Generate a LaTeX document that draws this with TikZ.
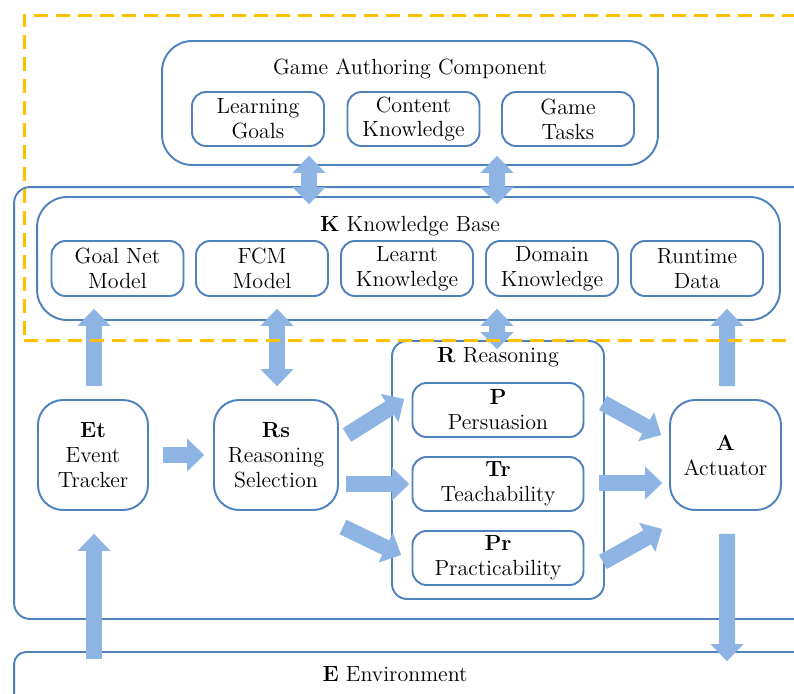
\documentclass[tikz,border=0pt]{standalone}
\usepackage{xcolor}
\usepackage{tikz}
\usetikzlibrary{positioning, arrows.meta, calc}
\definecolor{boxblue}{RGB}{79,129,189}
\definecolor{arrowblue}{RGB}{141,180,226}
\definecolor{authgold}{RGB}{255,192,0}

\begin{document}
\begin{tikzpicture}[
    x=0.02cm, y=-0.02cm,
    every node/.style={align=center, inner sep=0pt, font=\fontsize{12.5}{14.2}\selectfont},
    blockbox/.style={draw=boxblue, line width=1.1pt, rounded corners=#1},
    blockbox/.default=0.3cm,
    item/.style={blockbox=0.28cm, minimum width=2.64cm, minimum height=1.08cm},
    unit/.style={blockbox=0.5cm, minimum height=2.2cm},
    fattip/.tip={Triangle[length=0.34cm, width=0.66cm, line width=0.1pt]},
    fat/.style={draw=arrowblue, line width=0.32cm, -fattip},
    fatboth/.style={draw=arrowblue, line width=0.32cm, fattip-fattip}
]
\clip (0,0) rectangle (794,693);

\node[blockbox=0.32cm, minimum width=16.32cm, minimum height=8.64cm] (agent) at (422,403) {};
\node[blockbox=0.24cm, minimum width=16.32cm, minimum height=1.36cm] (env) at (422,686) {};
\node (envtitle) at (395,674) {\textbf{E} Environment};

\node[blockbox=0.6cm, minimum width=9.92cm, minimum height=2.48cm] (gac) at (410,103) {};
\node (gactitle) at (410,69) {Game Authoring Component};
\node[item] (lg) at (258,119) {Learning\\Goals};
\node[item] (ck) at (413.5,119) {Content\\Knowledge};
\node[item] (gt) at (568,119) {Game\\Tasks};

\node[blockbox=0.6cm, minimum width=14.86cm, minimum height=2.46cm] (kb) at (408.5,258.5) {};
\node (kbtitle) at (410,226) {\textbf{K} Knowledge Base};
\node[item, minimum height=1.1cm] (gnm) at (117.5,268.5) {Goal Net\\Model};
\node[item, minimum height=1.1cm] (fcm) at (262,268.5) {FCM\\Model};
\node[item, minimum height=1.1cm] (lk) at (407,268.5) {Learnt\\Knowledge};
\node[item, minimum height=1.1cm] (dk) at (552,268.5) {Domain\\Knowledge};
\node[item, minimum height=1.1cm] (rd) at (697,268.5) {Runtime\\Data};

\node[blockbox, minimum width=4.24cm, minimum height=5.16cm] (rr) at (498,470) {};
\node (rrtitle) at (498,357) {\textbf{R} Reasoning};
\node[item, minimum width=3.42cm] (per) at (498,410) {\textbf{P}\\Persuasion};
\node[item, minimum width=3.42cm] (tea) at (498,484) {\textbf{Tr}\\Teachability};
\node[item, minimum width=3.42cm] (pra) at (498,558) {\textbf{Pr}\\Practicability};

\node[unit, minimum width=2.2cm] (et) at (93,455) {\textbf{Et}\\Event\\Tracker};
\node[unit, minimum width=2.48cm] (rs) at (276,455) {\textbf{Rs}\\Reasoning\\Selection};
\node[unit, minimum width=2.22cm] (act) at (725.5,455) {\textbf{A}\\Actuator};

\draw[fatboth] ($(gac.south)+(-101,-10)$) -- ($(kb.north)+(-99.5,8)$);
\draw[fatboth] ($(gac.south)+(87,-10)$) -- ($(kb.north)+(88.5,8)$);
\draw[fat] ($(et.north)+(1,-13)$) -- ($(gnm.south)+(-23.5,12)$);
\draw[fatboth] ($(fcm.south)+(15,12)$) -- ($(rs.north)+(1,-13)$);
\draw[fatboth] ($(dk.south)+(-55,12)$) -- ($(rr.north)+(-1,9)$);
\draw[fat] ($(act.north)+(1.5,-13)$) -- ($(rd.south)+(30,12)$);
\draw[fat] ($(et.east)+(14,0)$) -- ($(rs.west)+(-9,0)$);
\draw[fat] ($(rs.east)+(8,-20)$) -- ($(per.west)+(-7.5,-11)$);
\draw[fat] ($(rs.east)+(7,29)$) -- ($(tea.west)+(-2.5,0)$);
\draw[fat] ($(rs.east)+(4,72)$) -- ($(pra.west)+(-10.5,-3)$);
\draw[fat] ($(per.east)+(18.5,-7)$) -- ($(act.west)+(-8,-20)$);
\draw[fat] ($(tea.east)+(14.5,-1)$) -- ($(act.west)+(-7,28)$);
\draw[fat] ($(pra.east)+(18.5,4)$) -- ($(act.west)+(-7,74)$);
\draw[fat] ($(act.south)+(1.5,23)$) -- ($(env.north)+(305,10)$);
\draw[fat] ($(env.north)+(-328,8)$) -- ($(et.south)+(1,23)$);

\node[draw=authgold, line width=0.06cm, dash pattern=on 0.28cm off 0.16cm, minimum width=16.12cm, minimum height=6.52cm] (authoring) at (427,178) {};
\end{tikzpicture}
\end{document}
